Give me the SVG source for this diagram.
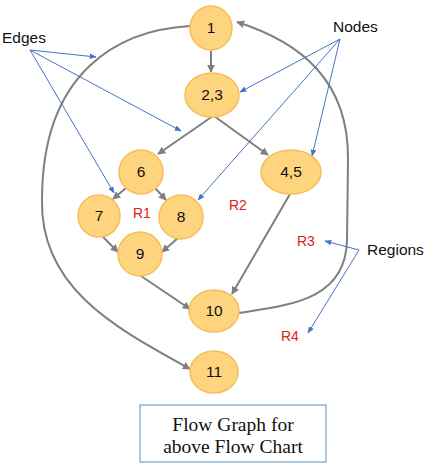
<svg xmlns="http://www.w3.org/2000/svg" width="428" height="466" viewBox="0 0 428 466">
<style>
.n{fill:#FFD47F;stroke:#F5BE5A;stroke-width:1.5}
.t{font-family:"Liberation Sans",Arial,sans-serif;font-size:15.5px;fill:#111;text-anchor:middle}
.lab{font-family:"Liberation Sans",Arial,sans-serif;font-size:15.5px;fill:#111}
.r{font-family:"Liberation Sans",Arial,sans-serif;font-size:14px;fill:#E0201A}
.g{fill:none;stroke:#7F7F7F;stroke-width:2}
.b{fill:none;stroke:#4472C4;stroke-width:1}
.cap{font-family:"Liberation Serif","Times New Roman",serif;font-size:19.5px;fill:#111;text-anchor:middle}
</style>
<defs>
<marker id="ag" viewBox="0 0 10 10" refX="9" refY="5" markerWidth="4" markerHeight="4" orient="auto" markerUnits="strokeWidth"><path d="M0,0 L10,5 L0,10 z" fill="#7F7F7F"/></marker>
<marker id="ab" viewBox="0 0 10 10" refX="9" refY="5" markerWidth="7" markerHeight="7" orient="auto" markerUnits="strokeWidth"><path d="M0,1 L10,5 L0,9 z" fill="#4472C4"/></marker>
</defs>
<g id="connectors">
<line class="g" x1="211" y1="51" x2="211" y2="72" marker-end="url(#ag)"/>
<line class="g" x1="213" y1="116" x2="158" y2="154" marker-end="url(#ag)"/>
<line class="g" x1="214" y1="116" x2="268" y2="155" marker-end="url(#ag)"/>
<line class="g" x1="126" y1="188" x2="113" y2="199" marker-end="url(#ag)"/>
<line class="g" x1="155" y1="188" x2="166" y2="200" marker-end="url(#ag)"/>
<line class="g" x1="103" y1="237" x2="118" y2="252" marker-end="url(#ag)"/>
<line class="g" x1="178" y1="238" x2="162" y2="252" marker-end="url(#ag)"/>
<line class="g" x1="141" y1="276" x2="190" y2="309" marker-end="url(#ag)"/>
<line class="g" x1="290" y1="194" x2="232" y2="294" marker-end="url(#ag)"/>
<path class="g" d="M239,313 C290,305 346,300 347,240 L348,160 C349,80 300,42 237,22" marker-end="url(#ag)"/>
<path class="g" d="M190,26 C120,30 42,70 42,200 C40,290 120,330 190,369" marker-end="url(#ag)"/>
<line class="b" x1="30" y1="50" x2="96" y2="57" marker-end="url(#ab)"/>
<line class="b" x1="30" y1="50" x2="181" y2="131" marker-end="url(#ab)"/>
<line class="b" x1="30" y1="50" x2="114" y2="193" marker-end="url(#ab)"/>
<line class="b" x1="340" y1="39" x2="240" y2="92" marker-end="url(#ab)"/>
<line class="b" x1="340" y1="39" x2="312" y2="156" marker-end="url(#ab)"/>
<line class="b" x1="340" y1="39" x2="198" y2="200" marker-end="url(#ab)"/>
<line class="b" x1="359" y1="250" x2="325" y2="241" marker-end="url(#ab)"/>
<line class="b" x1="359" y1="250" x2="308" y2="333" marker-end="url(#ab)"/>
</g>
<g id="n1"><ellipse class="n" cx="211" cy="28" rx="21" ry="22"/><text class="t" x="211" y="33">1</text></g>
<g id="n23"><ellipse class="n" cx="212" cy="95" rx="27" ry="22"/><text class="t" x="212" y="100">2,3</text></g>
<g id="n6"><ellipse class="n" cx="141" cy="172" rx="22" ry="22"/><text class="t" x="141" y="177">6</text></g>
<g id="n45"><ellipse class="n" cx="291" cy="172" rx="30" ry="22"/><text class="t" x="291" y="177">4,5</text></g>
<g id="n7"><ellipse class="n" cx="99" cy="216" rx="21" ry="21"/><text class="t" x="99" y="221">7</text></g>
<g id="n8"><ellipse class="n" cx="181" cy="217" rx="22" ry="22"/><text class="t" x="181" y="222">8</text></g>
<g id="n9"><ellipse class="n" cx="140" cy="254" rx="22" ry="22"/><text class="t" x="140" y="259">9</text></g>
<g id="n10"><ellipse class="n" cx="214" cy="311" rx="25" ry="21"/><text class="t" x="214" y="316">10</text></g>
<g id="n11"><ellipse class="n" cx="214" cy="372" rx="24" ry="21"/><text class="t" x="214" y="377">11</text></g>
<g id="labels">
<text class="lab" x="2" y="43">Edges</text>
<text class="lab" x="333" y="32">Nodes</text>
<text class="lab" x="367" y="255">Regions</text>
<text class="r" x="133" y="218">R1</text>
<text class="r" x="229" y="210">R2</text>
<text class="r" x="297" y="246">R3</text>
<text class="r" x="281" y="341">R4</text>
</g>
<g id="caption">
<rect x="140" y="405" width="186" height="57" fill="#fff" stroke="#5B8DB8" stroke-width="1"/>
<text class="cap" x="233" y="431">Flow Graph for</text>
<text class="cap" x="233" y="453">above Flow Chart</text>
</g>
</svg>
